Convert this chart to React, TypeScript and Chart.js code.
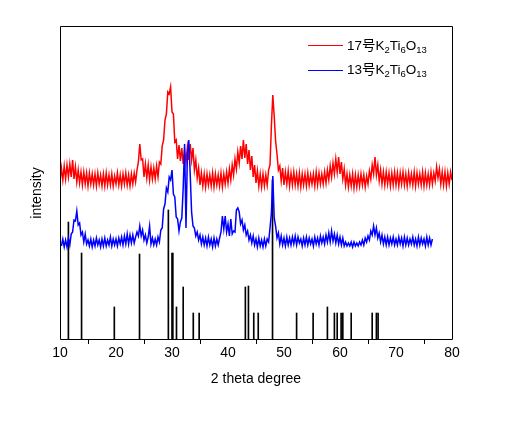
import React, { useEffect, useRef } from 'react';
import { Chart, registerables } from 'chart.js';

Chart.register(...registerables);

// sampling grid of the two measured patterns (2θ, degrees)
const STEP = 0.25;
const RED_START = 10;
const BLUE_START = 10.25;

// 17号 K2Ti6O13 intensity (arbitrary units), 10.00° → 80.00°
const RED_VALUES = [
  158, 172, 160, 174, // 10
  161, 175, 163, 176, // 11
  163, 180, 161, 173, // 12
  158, 170, 157, 168, // 13
  155, 168, 156, 167, // 14
  154, 167, 156, 166, // 15
  155, 166, 154, 167, // 16
  156, 165, 154, 166, // 17
  154, 167, 155, 165, // 18
  155, 166, 154, 164, // 19
  156, 167, 155, 165, // 20
  154, 166, 156, 167, // 21
  155, 165, 154, 166, // 22
  156, 167, 158, 170, // 23
  178, 196, 180, 181, // 24
  163, 176, 162, 175, // 25
  160, 173, 161, 172, // 26
  161, 174, 163, 178, // 27
  176, 194, 200, 220, // 28
  226, 248, 246, 253, // 29
  228, 226, 198, 200, // 30
  181, 195, 179, 192, // 31
  176, 190, 178, 193, // 32
  180, 196, 180, 192, // 33
  170, 180, 162, 172, // 34
  155, 167, 154, 166, // 35
  153, 166, 155, 165, // 36
  154, 167, 153, 166, // 37
  155, 165, 154, 167, // 38
  153, 166, 156, 168, // 39
  157, 171, 160, 175, // 40
  165, 181, 171, 188, // 41
  177, 194, 181, 200, // 42
  182, 196, 176, 190, // 43
  170, 184, 163, 175, // 44
  157, 169, 154, 166, // 45
  153, 166, 154, 165, // 46
  155, 170, 175, 214, // 47
  245, 224, 199, 186, // 48
  170, 174, 159, 172, // 49
  155, 168, 156, 169, // 50
  154, 167, 155, 168, // 51
  155, 166, 154, 167, // 52
  153, 166, 155, 166, // 53
  154, 167, 155, 165, // 54
  156, 166, 154, 168, // 55
  155, 167, 156, 166, // 56
  156, 168, 157, 170, // 57
  160, 174, 163, 177, // 58
  166, 181, 168, 183, // 59
  166, 178, 161, 171, // 60
  155, 166, 153, 165, // 61
  154, 166, 152, 165, // 62
  153, 165, 154, 166, // 63
  155, 165, 153, 164, // 64
  156, 169, 161, 175, // 65
  166, 183, 165, 175, // 66
  159, 170, 156, 168, // 67
  155, 168, 156, 167, // 68
  154, 167, 155, 168, // 69
  155, 167, 154, 167, // 70
  156, 168, 155, 166, // 71
  154, 167, 156, 166, // 72
  155, 168, 154, 167, // 73
  156, 166, 155, 168, // 74
  154, 167, 155, 166, // 75
  155, 168, 156, 167, // 76
  159, 173, 162, 171, // 77
  156, 168, 155, 168, // 78
  154, 167, 156, 168, // 79
  160, // 80
];

// 13号 K2Ti6O13 intensity (arbitrary units), 10.25° → 76.50°
const BLUE_VALUES = [
  94, 101, 93, // 10
  100, 93, 102, 95, // 11
  106, 108, 120, 119, // 12
  129, 115, 117, 105, // 13
  108, 98, 106, 96, // 14
  100, 94, 101, 93, // 15
  100, 94, 102, 95, // 16
  100, 93, 101, 94, // 17
  102, 94, 100, 95, // 18
  103, 94, 101, 95, // 19
  101, 94, 102, 96, // 20
  103, 95, 104, 96, // 21
  106, 96, 105, 97, // 22
  105, 97, 103, 108, // 23
  104, 114, 104, 110, // 24
  100, 105, 97, 103, // 25
  114, 96, 102, 95, // 26
  101, 95, 103, 98, // 27
  110, 112, 131, 136, // 28
  152, 148, 163, 160, // 29
  170, 146, 143, 123, // 30
  121, 109, 118, 122, // 31
  152, 196, 112, 186, // 32
  200, 166, 128, 114, // 33
  112, 104, 108, 100, // 34
  105, 96, 103, 95, // 35
  102, 94, 103, 95, // 36
  101, 93, 102, 94, // 37
  101, 95, 102, 108, // 38
  124, 111, 124, 108, // 39
  116, 104, 121, 106, // 40
  109, 108, 130, 132, // 41
  128, 116, 120, 110, // 42
  115, 105, 109, 100, // 43
  105, 97, 104, 95, // 44
  101, 93, 102, 94, // 45
  100, 93, 101, 94, // 46
  101, 98, 112, 127, // 47
  164, 122, 114, 102, // 48
  107, 96, 104, 95, // 49
  102, 94, 103, 95, // 50
  102, 95, 103, 96, // 51
  104, 95, 103, 97, // 52
  101, 94, 102, 95, // 53
  103, 95, 102, 96, // 54
  101, 94, 103, 96, // 55
  102, 95, 104, 97, // 56
  103, 96, 105, 98, // 57
  107, 98, 109, 99, // 58
  106, 97, 105, 96, // 59
  103, 95, 102, 94, // 60
  98, 94, 97, 94, // 61
  98, 93, 98, 94, // 62
  97, 94, 98, 95, // 63
  100, 95, 102, 98, // 64
  104, 100, 109, 105, // 65
  114, 105, 112, 102, // 66
  107, 98, 105, 96, // 67
  103, 95, 103, 95, // 68
  102, 96, 103, 95, // 69
  101, 95, 103, 96, // 70
  102, 94, 103, 95, // 71
  102, 95, 101, 96, // 72
  103, 95, 101, 94, // 73
  103, 95, 102, 96, // 74
  101, 94, 103, 95, // 75
  102, 95, 101, // 76
];

// reference (standard card) line positions and relative heights
const STICK_POSITIONS = [
  11.5, 13.85, 19.7, 24.2, 29.35, 30.0, 30.15, 30.8, 32.0, 33.8, 34.85,
  43.1, 43.65, 44.6, 45.4, 47.95, 52.25, 55.2, 57.75, 59.0, 59.5, 60.2,
  60.5, 62.0, 65.75, 66.5, 66.8,
];
const STICK_HEIGHTS = [
  118, 87, 33, 86, 130, 87, 87, 33, 53, 27, 27,
  53, 54, 27, 27, 160, 27, 27, 33, 27, 27, 27,
  27, 27, 27, 27, 27,
];

const X_TICKS = [10, 20, 30, 40, 50, 60, 70, 80];
const X_MINOR_TICKS = [15, 25, 35, 45, 55, 65, 75];
const X_TITLE = '2 theta degree';
const Y_TITLE = 'intensity';

// legend labels: [text, isSubscript]
const RED_LABEL: [string, boolean][] = [['17号K', false], ['2', true], ['Ti', false], ['6', true], ['O', false], ['13', true]];
const BLUE_LABEL: [string, boolean][] = [['13号K', false], ['2', true], ['Ti', false], ['6', true], ['O', false], ['13', true]];

const RED = '#ff0000';
const BLUE = '#0000ff';
const FONT = "'Liberation Sans', Arial, 'Noto Sans CJK SC', sans-serif";

const framePlugin = {
  id: 'frameAndLegend',
  afterDraw(chart: any) {
    const { ctx, chartArea: a, scales } = chart;
    const L = Math.round(a.left) + 0.5;
    const T = Math.round(a.top) + 0.5;
    const R = Math.round(a.right) + 0.5;
    const B = Math.round(a.bottom) - 0.5;
    ctx.save();
    ctx.strokeStyle = '#000';
    ctx.lineWidth = 1;
    ctx.beginPath();
    ctx.rect(L, T, R - L, B - T);
    for (const v of X_MINOR_TICKS) {
      const px = Math.round(scales.x.getPixelForValue(v)) + 0.5;
      ctx.moveTo(px, B);
      ctx.lineTo(px, B + 2.5);
    }
    ctx.stroke();

    // y title
    ctx.save();
    ctx.translate(a.left - 23, (a.top + a.bottom) / 2 + 10);
    ctx.rotate(-Math.PI / 2);
    ctx.fillStyle = '#000';
    ctx.font = `14px ${FONT}`;
    ctx.textAlign = 'center';
    ctx.textBaseline = 'middle';
    ctx.fillText(Y_TITLE, 0, 0);
    ctx.restore();

    // legend
    const rows: { parts: [string, boolean][]; color: string; y: number }[] = [
      { parts: RED_LABEL, color: RED, y: a.top + 19 },
      { parts: BLUE_LABEL, color: BLUE, y: a.top + 43.5 },
    ];
    for (const row of rows) {
      ctx.strokeStyle = row.color;
      ctx.lineWidth = 1.2;
      ctx.beginPath();
      ctx.moveTo(a.right - 144, Math.round(row.y) + 0.5);
      ctx.lineTo(a.right - 109, Math.round(row.y) + 0.5);
      ctx.stroke();
      let x = a.right - 105;
      ctx.fillStyle = '#000';
      ctx.textAlign = 'left';
      ctx.textBaseline = 'alphabetic';
      for (const [t, sub] of row.parts) {
        ctx.font = sub ? `9.5px ${FONT}` : `13.5px ${FONT}`;
        ctx.fillText(t, x, row.y + (sub ? 7.5 : 4.5));
        x += ctx.measureText(t).width;
      }
    }
    ctx.restore();
  },
};

export default function App() {
  const ref = useRef<HTMLCanvasElement>(null);
  useEffect(() => {
    if (!ref.current) return;
    const chart = new Chart(ref.current, {
      type: 'line',
      data: {
        datasets: [
          {
            type: 'line',
            label: '13号K2Ti6O13',
            data: BLUE_VALUES.map((y, i) => ({ x: BLUE_START + i * STEP, y })),
            borderColor: BLUE,
            borderWidth: 1.5,
            pointRadius: 0,
            tension: 0,
            order: 0,
          },
          {
            type: 'line',
            label: '17号K2Ti6O13',
            data: RED_VALUES.map((y, i) => ({ x: RED_START + i * STEP, y })),
            borderColor: RED,
            borderWidth: 1.5,
            pointRadius: 0,
            tension: 0,
            order: 1,
          },
          {
            type: 'bar',
            label: 'standard',
            data: STICK_POSITIONS.map((x, i) => ({ x, y: STICK_HEIGHTS[i] })),
            backgroundColor: '#000',
            borderWidth: 0,
            barThickness: 1,
            grouped: false,
            order: 2,
          } as any,
        ],
      },
      options: {
        responsive: false,
        animation: false,
        devicePixelRatio: 1,
        layout: { padding: { left: 60, right: 59, top: 26, bottom: 38 } },
        plugins: { legend: { display: false }, tooltip: { enabled: false } },
        scales: {
          x: {
            type: 'linear',
            min: 10,
            max: 80,
            offset: false,
            afterBuildTicks: (s: any) => {
              s.ticks = X_TICKS.map((v) => ({ value: v }));
            },
            afterFit: (s: any) => {
              s.height = 51;
            },
            ticks: {
              autoSkip: false,
              maxRotation: 0,
              padding: 1,
              color: '#000',
              font: { family: FONT, size: 14 },
            },
            grid: {
              display: true,
              drawOnChartArea: false,
              drawTicks: true,
              tickLength: 4,
              color: '#000',
            },
            border: { display: false },
            title: {
              display: true,
              text: X_TITLE,
              color: '#000',
              font: { family: FONT, size: 14 },
              padding: { top: 7, bottom: 3 },
            },
          },
          y: { display: false, min: 0, max: 314 },
        },
      },
      plugins: [framePlugin],
    } as any);
    return () => chart.destroy();
  }, []);
  return (
    <div style={{ position: 'fixed', left: 0, top: 0, width: 511, height: 429, background: '#fff' }}>
      <canvas ref={ref} width={511} height={429} />
    </div>
  );
}
